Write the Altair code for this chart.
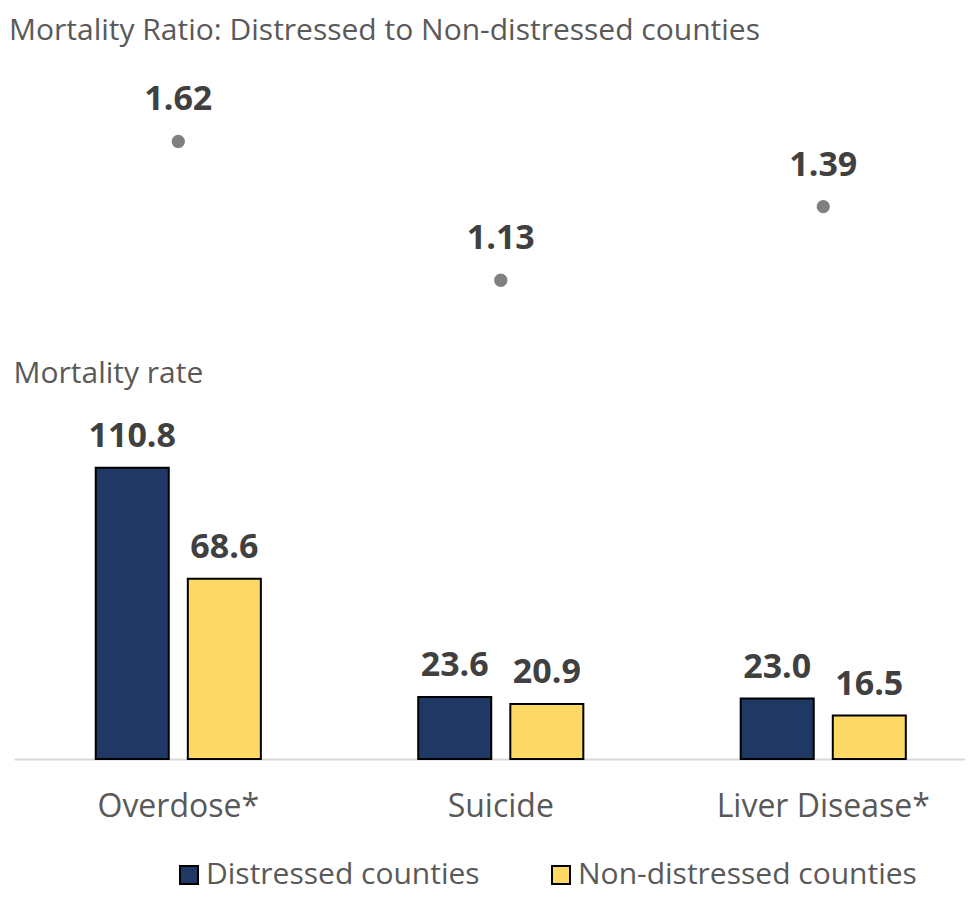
import altair as alt
import pandas as pd

categories = ["Overdose*", "Suicide", "Liver Disease*"]
groups = ["Distressed counties", "Non-distressed counties"]
distressed = [110.8, 23.6, 23.0]
non_distressed = [68.6, 20.9, 16.5]
ratio = [1.62, 1.13, 1.39]

bars_df = pd.DataFrame({
    "category": categories * 2,
    "group": [groups[0]] * 3 + [groups[1]] * 3,
    "rate": distressed + non_distressed,
})
ratio_df = pd.DataFrame({"category": categories, "ratio": ratio})

FONT = "Open Sans"
GRAY = "#595959"
DARK = "#404040"

x_enc = alt.X(
    "category:N", sort=categories,
    scale=alt.Scale(paddingInner=0.488, paddingOuter=0.2185, align=0.58),
    axis=alt.Axis(title=None, labelAngle=0, labelFontSize=32, labelColor=GRAY,
                  labelFont=FONT, ticks=False, domainColor="#d9d9d9", domainWidth=2,
                  labelPadding=32, grid=False, labelLimit=400),
)
xoff = alt.XOffset("group:N", sort=groups,
                   scale=alt.Scale(paddingInner=0.207, paddingOuter=0))

rate_y = alt.Y(
    "rate:Q", scale=alt.Scale(domain=[0, 265.9], nice=False, zero=True),
    axis=alt.Axis(title="Mortality rate", labels=False, ticks=False, domain=False,
                  grid=False, titleAngle=0, titleAlign="left",
                  titleBaseline="alphabetic", titleX=-1, titleY=322,
                  titleFontSize=30, titleColor=GRAY, titleFont=FONT,
                  titleFontWeight="normal", minExtent=0),
)
ratio_y = alt.Y("ratio:Q", scale=alt.Scale(domain=[-0.560, 1.9075], nice=False, zero=False),
                axis=None)

bars = alt.Chart(bars_df).mark_bar(stroke="black", strokeWidth=2).encode(
    x=x_enc, xOffset=xoff, y=rate_y,
    fill=alt.Fill("group:N", sort=groups,
                  scale=alt.Scale(domain=groups, range=["#1F3864", "#FFD966"]),
                  legend=alt.Legend(title=None, orient="none", legendX=160, legendY=800,
                                    direction="horizontal", symbolType="square",
                                    symbolSize=324, symbolStrokeColor="black",
                                    symbolStrokeWidth=2, labelFontSize=30,
                                    labelColor=GRAY, labelFont=FONT, labelOffset=2,
                                    columnPadding=66, labelLimit=600, padding=0)),
)
bar_labels = alt.Chart(bars_df).mark_text(
    font=FONT, fontSize=34, fontWeight="bold", color=DARK,
    baseline="alphabetic", dy=-21,
).encode(x=x_enc, xOffset=xoff, y=rate_y, text=alt.Text("rate:Q", format=".1f"))

dots = alt.Chart(ratio_df).mark_circle(size=177, color="#808080", opacity=1).encode(
    x=x_enc, y=ratio_y)
dot_labels = alt.Chart(ratio_df).mark_text(
    font=FONT, fontSize=34, fontWeight="bold", color=DARK,
    baseline="alphabetic", dy=-31,
).encode(x=x_enc, y=ratio_y, text=alt.Text("ratio:Q", format=".2f"))

chart = alt.layer(
    alt.layer(bars, bar_labels),
    alt.layer(dots, dot_labels),
).resolve_scale(y="independent").properties(
    width=951, height=699,
    autosize=alt.AutoSizeParams(type="none"),
    padding={"left": 6, "top": 52, "right": 0, "bottom": 133},
    background="white",
    title=alt.TitleParams(
        text="Mortality Ratio: Distressed to Non-distressed counties",
        anchor="start", frame="group", fontSize=30, font=FONT, color=GRAY,
        fontWeight="normal", dx=-5, offset=14),
).configure_view(stroke=None)

chart.save("out.html", embed_options={"renderer": "svg", "actions": False})
